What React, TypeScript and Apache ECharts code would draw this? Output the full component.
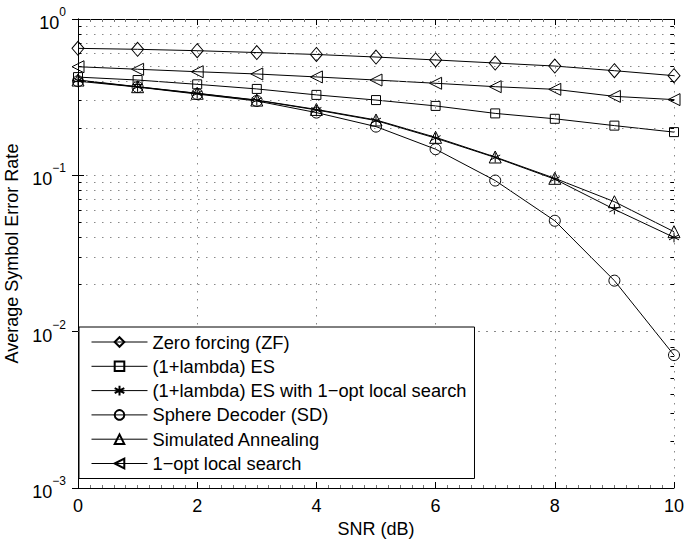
import React, { useEffect, useRef } from "react";
import * as echarts from "echarts";

const snr = [0, 1, 2, 3, 4, 5, 6, 7, 8, 9, 10];
const zfSER = [0.649, 0.640, 0.627, 0.610, 0.593, 0.571, 0.547, 0.523, 0.500, 0.467, 0.434];
const esSER = [0.425, 0.407, 0.382, 0.357, 0.327, 0.303, 0.278, 0.249, 0.230, 0.208, 0.189];
const esLocalSER = [0.405, 0.368, 0.334, 0.302, 0.262, 0.224, 0.173, 0.130, 0.0945, 0.0606, 0.0401];
const sdSER = [0.400, 0.367, 0.331, 0.299, 0.252, 0.205, 0.147, 0.0926, 0.0512, 0.0212, 0.00708];
const saSER = [0.407, 0.369, 0.335, 0.303, 0.264, 0.226, 0.175, 0.131, 0.0957, 0.0678, 0.0436];
const localSER = [0.495, 0.477, 0.460, 0.445, 0.426, 0.407, 0.388, 0.369, 0.355, 0.320, 0.305];

const seriesNames = [
  "Zero forcing (ZF)",
  "(1+lambda) ES",
  "(1+lambda) ES with 1\u2212opt local search",
  "Sphere Decoder (SD)",
  "Simulated Annealing",
  "1\u2212opt local search",
];
const xTickStep = 2;
const yDecades = [0.001, 0.01, 0.1];
const yMinorMultipliers = [2, 3, 4, 5, 6, 7, 8, 9];

const FONT = "'Liberation Sans', Arial, Helvetica, sans-serif";
const ASTERISK = "path://M5,0L5,10M0.67,2.5L9.33,7.5M0.67,7.5L9.33,2.5";
const GRID_DOT = { color: "#888", type: [1.5, 6.5], width: 1 };

export default function App() {
  const ref = useRef<HTMLDivElement>(null);
  useEffect(() => {
    if (!ref.current) return;
    const chart = echarts.init(ref.current, undefined, { renderer: "svg" });
    const minorVals: number[] = [];
    yDecades.forEach((d) => yMinorMultipliers.forEach((k) => minorVals.push(k * d)));

    const mk = (name: string, data: number[], symbol: string, size: any, rotate = 0) => ({
      name,
      type: "line",
      data: snr.map((x, i) => [x, data[i]]),
      symbol,
      symbolSize: size,
      symbolRotate: rotate,
      showAllSymbol: true,
      lineStyle: { color: "#000", width: 1 },
      itemStyle: { color: "rgba(255,255,255,0)", borderColor: "#000", borderWidth: 1 },
      z: 3,
    });

    const option: any = {
      animation: false,
      textStyle: { fontFamily: FONT },
      grid: { left: 78, right: 11, top: 19, bottom: 53, containLabel: false, outerBoundsMode: "none" },
      xAxis: [
        {
          type: "value",
          min: 0,
          max: 10,
          interval: xTickStep,
          name: "SNR (dB)",
          nameLocation: "middle",
          nameGap: 31,
          nameTextStyle: { fontSize: 18, color: "#000", fontFamily: FONT },
          axisLine: { lineStyle: { color: "#000", width: 1 } },
          axisTick: { inside: true, length: 6, lineStyle: { color: "#000" } },
          minorTick: { show: true, splitNumber: 10, length: 3, lineStyle: { color: "#777" } },
          axisLabel: { fontSize: 18, color: "#000", margin: 9, fontFamily: FONT },
          splitLine: { show: true, lineStyle: GRID_DOT },
        },
        {
          type: "value",
          position: "top",
          min: 0,
          max: 10,
          interval: xTickStep,
          axisLine: { lineStyle: { color: "#000", width: 1 } },
          axisTick: { inside: true, length: 6, lineStyle: { color: "#000" } },
          minorTick: { show: true, splitNumber: 10, length: 3, lineStyle: { color: "#777" } },
          axisLabel: { show: false },
          splitLine: { show: false },
        },
      ],
      yAxis: [
        {
          type: "log",
          logBase: 10,
          min: 0.001,
          max: 1,
          name: "Average Symbol Error Rate",
          nameLocation: "middle",
          nameGap: 56,
          nameTextStyle: { fontSize: 18, color: "#000", fontFamily: FONT },
          axisLine: { lineStyle: { color: "#000", width: 1 } },
          axisTick: { inside: true, length: 6, lineStyle: { color: "#000" } },
          axisLabel: {
            margin: 12,
            formatter: (v: number) => {
              const e = Math.round(Math.log10(v));
              return `{b|10}{s|${String(e).replace("-", "\u2212")}}`;
            },
            rich: {
              b: { fontSize: 18, color: "#000", fontFamily: FONT, lineHeight: 26, verticalAlign: "bottom" },
              s: { fontSize: 12, color: "#000", fontFamily: FONT, lineHeight: 12, verticalAlign: "top" },
            },
          },
          splitLine: { show: true, lineStyle: GRID_DOT },
        },
        {
          type: "log",
          logBase: 10,
          min: 0.001,
          max: 1,
          position: "right",
          axisLine: { lineStyle: { color: "#000", width: 1 } },
          axisTick: { inside: true, length: 6, lineStyle: { color: "#000" } },
          axisLabel: { show: false },
          splitLine: { show: false },
        },
      ],
      legend: {
        data: seriesNames,
        orient: "vertical",
        left: 79,
        top: 327,
        width: 395,
        padding: [5, 8, 5, 12],
        itemGap: 4.3,
        itemWidth: 56,
        itemHeight: 12,
        backgroundColor: "#fff",
        borderColor: "#000",
        borderWidth: 1,
        borderRadius: 0,
        lineStyle: { width: 1 },
        textStyle: { fontSize: 18.3, color: "#000", fontFamily: FONT, lineHeight: 20 },
        selectedMode: false,
        z: 10,
      },
      series: [
        {
          name: "grid-minor",
          type: "line",
          data: [],
          silent: true,
          z: 1,
          markLine: {
            silent: true,
            symbol: "none",
            animation: false,
            label: { show: false },
            lineStyle: GRID_DOT,
            data: minorVals.map((v) => ({ yAxis: v })),
          },
        },
        {
          name: "minor-ticks",
          type: "line",
          data: [],
          silent: true,
          z: 2,
          markLine: {
            silent: true,
            symbol: "none",
            animation: false,
            label: { show: false },
            lineStyle: { color: "#000", type: "solid", width: 1 },
            data: minorVals.flatMap((v) => [
              [{ coord: [0, v] }, { coord: [0.06, v] }],
              [{ coord: [9.94, v] }, { coord: [10, v] }],
            ]),
          },
        },
        mk(seriesNames[0], zfSER, "diamond", [12, 14]),
        mk(seriesNames[1], esSER, "rect", 9),
        mk(seriesNames[2], esLocalSER, ASTERISK, 10),
        mk(seriesNames[3], sdSER, "circle", 11),
        mk(seriesNames[4], saSER, "triangle", 12),
        mk(seriesNames[5], localSER, "triangle", 12, 90),
      ],
    };
    chart.setOption(option);
    return () => chart.dispose();
  }, []);
  return <div ref={ref} style={{ width: 685, height: 541, position: "absolute", left: 0, top: 0, background: "#fff" }} />;
}
